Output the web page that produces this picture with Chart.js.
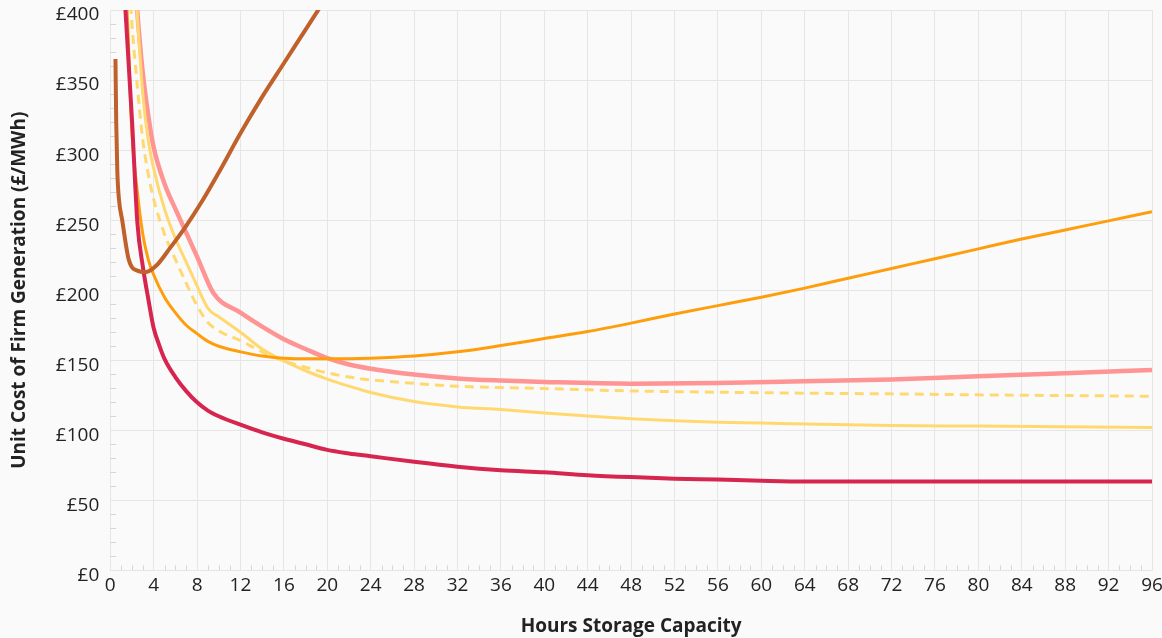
<!DOCTYPE html>
<html>
<head>
<meta charset="utf-8">
<script src="https://cdn.jsdelivr.net/npm/chart.js@4/dist/chart.umd.min.js"></script>
<style>
	html, body { margin: 0; padding: 0; background: #fafafa; }
	#wrap { width: 1162px; height: 638px; }
</style>
</head>
<body>
<div id="wrap"><canvas id="cost-chart"></canvas></div>
<script>
// Data (hours of storage -> £/MWh)
const brownHours = [0.48, 0.55, 0.65, 0.8, 1.1, 1.7, 2.5, 3.3, 4.3, 5.5, 7, 8.5, 10, 12, 14, 16, 18, 20];
const brownCost = [365, 320, 285, 265, 250, 222, 214, 213, 218, 230, 246, 264, 284, 312, 338, 362, 386, 410];

const crimsonHours = [1.1, 1.4, 2, 2.5, 3, 3.5, 4, 4.5, 5, 6, 7, 8, 9, 10, 12, 14, 16, 18, 20, 22, 24, 28, 32, 36, 40, 44, 48, 52, 56, 60, 64, 72, 80, 88, 96];
const crimsonCost = [445, 400, 322, 248, 217, 194, 173, 161, 151, 138, 128, 120, 114, 110, 104, 98.5, 94, 90, 86, 83.5, 81.5, 77.5, 74, 71.5, 70, 68, 66.6, 65.5, 64.8, 64, 63.5, 63.5, 63.5, 63.5, 63.5];

const pinkHours = [2.2, 2.5, 3, 3.5, 4, 5, 6, 7, 8, 9.5, 12, 14, 16, 18, 20, 22, 24, 28, 32, 36, 40, 48, 56, 64, 72, 80, 88, 96];
const pinkCost = [430, 398, 355, 325, 302, 276, 258, 241, 224, 198, 184, 174, 165, 158, 151.5, 147, 144, 139.8, 137, 135.5, 134.5, 133.3, 133.8, 135, 136.3, 138.5, 140.8, 143];

const orangeHours = [1.3, 1.55, 2, 2.5, 3, 3.5, 4, 5, 6, 7, 8, 9, 10, 12, 14, 16, 18, 20, 24, 28, 32, 36, 40, 44, 48, 52, 56, 60, 64, 68, 72, 76, 80, 84, 88, 92, 96];
const orangeCost = [430, 400, 312, 270, 240, 222, 211, 195, 184, 175, 169, 163.5, 160, 156, 153, 151.5, 151, 151, 151.5, 153, 156, 160.5, 165.5, 170.5, 176.5, 183, 189, 195, 201.5, 208.5, 215.5, 222.5, 229.5, 236.5, 243, 249.5, 256];

const dashedHours = [1.7, 2, 2.5, 3, 3.5, 4, 5, 6, 7, 8, 9, 10, 12, 14, 16, 18, 20, 22, 24, 28, 32, 36, 40, 48, 56, 64, 72, 80, 88, 96];
const dashedCost = [425, 390, 345, 307, 283, 265, 240, 222, 205, 189, 177, 171, 164, 156, 149.5, 145, 141, 138, 136, 133.5, 131.4, 130.5, 129.8, 128.1, 127.2, 126.5, 126, 125.3, 124.8, 124.3];

const yellowHours = [2.3, 2.5, 3, 3.5, 4, 5, 6, 7, 8, 9, 10, 12, 14, 16, 18, 20, 22, 24, 28, 32, 36, 40, 44, 48, 52, 56, 60, 64, 72, 80, 88, 96];
const yellowCost = [420, 395, 340, 307, 287, 258, 237, 220, 203, 187, 181, 170, 158, 149.5, 142.5, 136.5, 131.5, 127, 120.5, 116.7, 114.8, 112.4, 110.2, 108.3, 106.8, 105.8, 105.2, 104.5, 103.5, 103, 102.5, 102];

const yTicks = [0, 50, 100, 150, 200, 250, 300, 350, 400];
const xMax = 96;
const xStep = 4;
const yStep = 50;
const xMinorStep = 1;
const yMinorStep = 10;

function points(hours, cost) {
	return hours.map(function (h, i) {
		return { x: h, y: cost[i] };
	});
}

function line(label, hours, cost, color, width, dash) {
	return {
		label: label,
		data: points(hours, cost),
		borderColor: color,
		backgroundColor: color,
		borderWidth: width,
		borderDash: dash || [],
		pointRadius: 0,
		fill: false,
		cubicInterpolationMode: 'monotone',
	};
}

// small tick marks every hour / every £10, drawn inward from the axes
const minorTicks = {
	id: 'minorTicks',
	beforeDatasetsDraw: function (chart) {
		const ctx = chart.ctx;
		const area = chart.chartArea;
		const x = chart.scales.x;
		const y = chart.scales.y;
		ctx.save();
		ctx.strokeStyle = '#d6d6d6';
		ctx.lineWidth = 1;
		ctx.beginPath();
		for (let h = 0; h <= xMax; h += xMinorStep) {
			if (h % xStep === 0) continue;
			const px = Math.round(x.getPixelForValue(h)) + 0.5;
			ctx.moveTo(px, area.bottom);
			ctx.lineTo(px, area.bottom - 5);
		}
		for (let v = 0; v <= yTicks[yTicks.length - 1]; v += yMinorStep) {
			if (v % yStep === 0) continue;
			const py = Math.round(y.getPixelForValue(v)) + 0.5;
			ctx.moveTo(area.left, py);
			ctx.lineTo(area.left + 6, py);
		}
		ctx.stroke();
		ctx.restore();
	},
};

const ctx = document.getElementById('cost-chart');

new Chart(ctx, {
	type: 'line',
	data: {
		datasets: [
			line('Series F', brownHours, brownCost, '#c0612b', 4),
			line('Series A', crimsonHours, crimsonCost, '#d62650', 4),
			line('Series C', orangeHours, orangeCost, '#ff9e0d', 3),
			line('Series D', dashedHours, dashedCost, '#ffd970', 3, [9, 6]),
			line('Series E', yellowHours, yellowCost, '#ffd970', 3),
			line('Series B', pinkHours, pinkCost, '#ff9494', 4.5),
		],
	},
	options: {
		responsive: true,
		maintainAspectRatio: false,
		animation: false,
		layout: {
			padding: { top: 10, right: 0, bottom: 0, left: 8 },
		},
		plugins: {
			legend: { display: false },
			tooltip: { enabled: false },
		},
		scales: {
			x: {
				type: 'linear',
				min: 0,
				max: xMax,
				afterFit: function (scale) {
					scale.paddingRight = 10;
				},
				ticks: {
					stepSize: xStep,
					color: '#222',
					font: { family: 'Open Sans', size: 19 },
					maxRotation: 0,
					padding: 4,
				},
				grid: { color: '#e6e6e6', drawTicks: false },
				border: { color: '#e6e6e6' },
				title: {
					display: true,
					text: 'Hours Storage Capacity',
					color: '#222',
					font: { family: 'Open Sans', size: 19, weight: 'bold' },
					padding: { top: 14, bottom: 0 },
				},
			},
			y: {
				type: 'linear',
				min: 0,
				max: yTicks[yTicks.length - 1],
				afterBuildTicks: function (axis) {
					axis.ticks = yTicks.map(function (v) {
						return { value: v };
					});
				},
				afterFit: function (scale) {
					scale.paddingTop = 0;
				},
				ticks: {
					color: '#222',
					font: { family: 'Open Sans', size: 19 },
					padding: 11,
					labelOffset: 5,
					callback: function (v) {
						return '£' + v;
					},
				},
				grid: { color: '#e6e6e6', drawTicks: false },
				border: { color: '#e6e6e6' },
				title: {
					display: true,
					text: 'Unit Cost of Firm Generation (£/MWh)',
					color: '#222',
					font: { family: 'Open Sans', size: 19, weight: 'bold' },
					padding: { top: 0, bottom: 14 },
				},
			},
		},
	},
	plugins: [minorTicks],
});
</script>
</body>
</html>
